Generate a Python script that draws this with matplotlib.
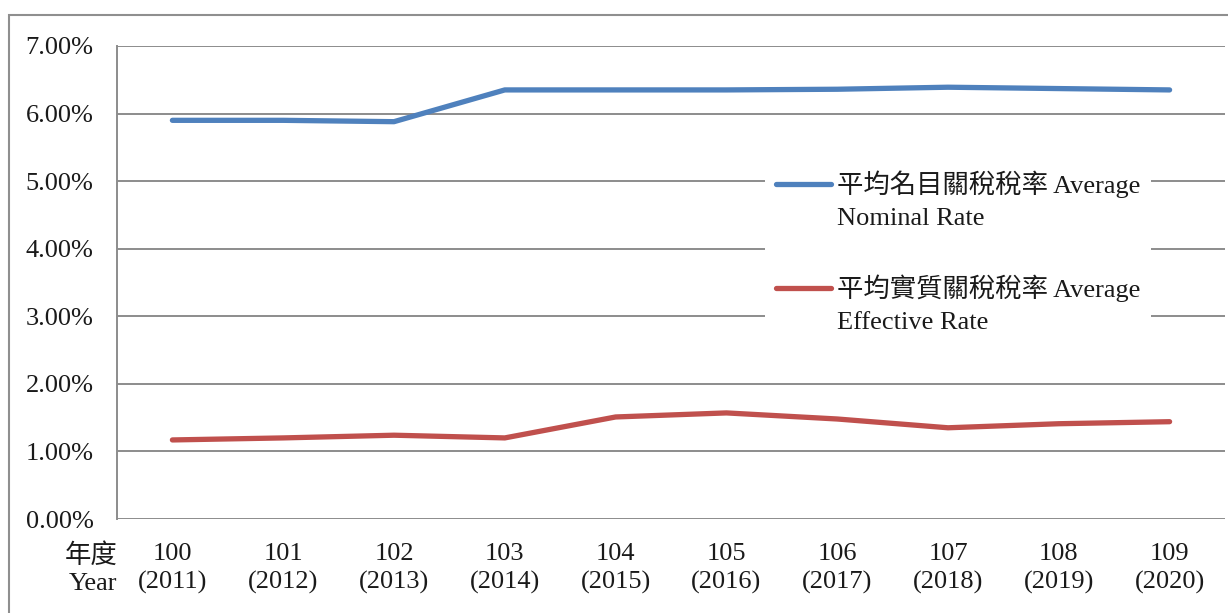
import matplotlib
matplotlib.use("Agg")
import numpy as np
import matplotlib.pyplot as plt
from matplotlib.patches import Rectangle
from matplotlib.ticker import FuncFormatter
from matplotlib.legend_handler import HandlerLine2D

plt.rcParams['font.family'] = ['Liberation Serif', 'Noto Sans CJK TC']

# ROC years and Western years
roc_years = ["100", "101", "102", "103", "104", "105", "106", "107", "108", "109"]
ad_years = ["2011", "2012", "2013", "2014", "2015", "2016", "2017", "2018", "2019", "2020"]

# average tariff rates, percent
nominal_rate = [5.90, 5.90, 5.88, 6.35, 6.35, 6.35, 6.36, 6.39, 6.37, 6.35]
effective_rate = [1.17, 1.20, 1.24, 1.20, 1.51, 1.57, 1.48, 1.35, 1.41, 1.44]

nominal_label = "平均名目關稅稅率 Average\nNominal Rate"
effective_label = "平均實質關稅稅率 Average\nEffective Rate"

BLUE = "#4F81BD"
RED = "#C0504D"
GRID = "#8c8c8c"
TXT = "#1a1a1a"


class FirstLineHandler(HandlerLine2D):
    """Legend key drawn level with the first line of a two-line label."""
    def __init__(self, shift, **kw):
        super().__init__(**kw)
        self.shift = shift

    def create_artists(self, legend, orig_handle, xdescent, ydescent,
                       width, height, fontsize, trans):
        arts = super().create_artists(legend, orig_handle, xdescent, ydescent,
                                      width, height, fontsize, trans)
        for a in arts:
            a.set_ydata(np.asarray(a.get_ydata()) + self.shift)
        return arts


fig = plt.figure(figsize=(12.28, 6.13), dpi=100)
ax = fig.add_axes([117 / 1228, 94 / 613, 1108 / 1228, 473 / 613])

x = list(range(len(roc_years)))
l1, = ax.plot(x, nominal_rate, color=BLUE, lw=3.8, solid_capstyle='round',
              solid_joinstyle='round', label=nominal_label, zorder=3)
l2, = ax.plot(x, effective_rate, color=RED, lw=3.8, solid_capstyle='round',
              solid_joinstyle='round', label=effective_label, zorder=3)

ax.set_xlim(-0.5, len(x) - 0.5)
ax.set_ylim(0, 7)
ax.set_yticks(range(0, 8))
ax.yaxis.set_major_formatter(FuncFormatter(lambda v, p: f"{v:.2f}%"))
ax.set_xticks(x)
ax.set_xticklabels([f"{r}\n({a})" for r, a in zip(roc_years, ad_years)],
                   linespacing=1.33)
ax.tick_params(axis='both', length=0, labelsize=19, labelcolor=TXT)
ax.tick_params(axis='y', pad=17)
ax.tick_params(axis='x', pad=17)

ax.grid(axis='y', color=GRID, lw=1.4)
ax.set_axisbelow(True)
for s in ['top', 'right', 'bottom']:
    ax.spines[s].set_visible(False)
ax.spines['left'].set_color(GRID)
ax.spines['left'].set_linewidth(1.4)

ax.text(0.0, -0.051, "年度\nYear", transform=ax.transAxes, ha='right', va='top',
        fontsize=19, color=TXT, linespacing=1.33)

leg = ax.legend(loc='upper left', bbox_to_anchor=(0.585, 0.76), frameon=True,
                fancybox=False, edgecolor='none', facecolor='white', framealpha=1,
                fontsize=19, handlelength=2.1, handletextpad=0.22,
                labelspacing=1.7, borderpad=0.4, borderaxespad=0,
                handler_map={l1: FirstLineHandler(11.3), l2: FirstLineHandler(11.3)})
for t in leg.get_texts():
    t.set_color(TXT)
    t.set_linespacing(1.6)

# outer chart frame
fig.patches.append(Rectangle((9 / 1228, -0.1), 1.2, (613 - 15) / 613 + 0.1,
                             transform=fig.transFigure, fill=False,
                             edgecolor="#8f8f8f", lw=1.5))

fig.savefig("out.png", dpi=100)
